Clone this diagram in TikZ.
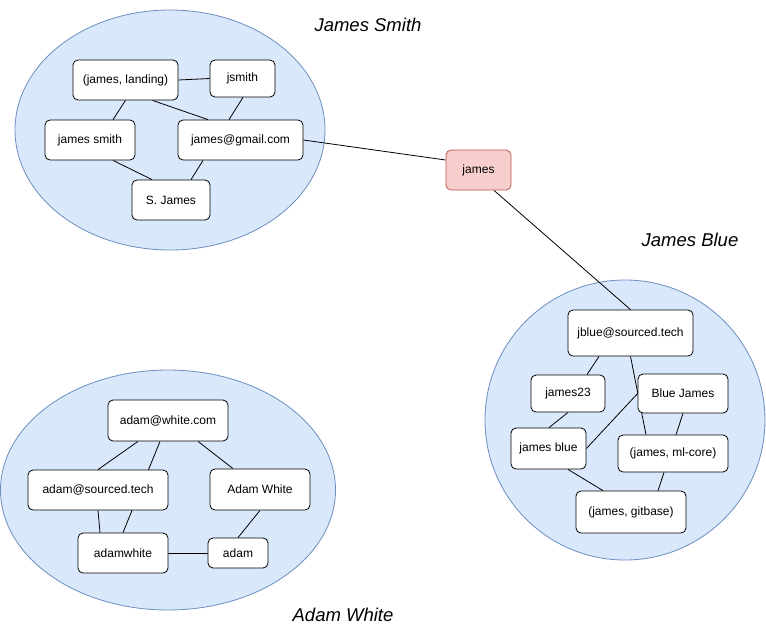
\documentclass[tikz,border=0pt]{standalone}
\usepackage{fontspec}
\setmainfont{Liberation Sans}
\usetikzlibrary{shapes.geometric}
\pgfdeclarelayer{grplayer}
\pgfdeclarelayer{edgelayer}
\pgfsetlayers{grplayer,edgelayer,main}
\definecolor{grpfill}{HTML}{DAE8FC}
\definecolor{grpdraw}{HTML}{6C8EBF}
\definecolor{redfill}{HTML}{F8CECC}
\definecolor{reddraw}{HTML}{B85450}
\begin{document}
\begin{tikzpicture}[x=1pt,y=-1pt,
  grp/.style={ellipse,draw=grpdraw,fill=grpfill,line width=0.8pt,inner sep=0pt},
  box/.style={rectangle,rounded corners=5pt,draw=black,fill=white,line width=0.8pt,
    inner sep=0pt,font=\fontsize{12}{14}\selectfont},
  redbox/.style={box,draw=reddraw,fill=redfill},
  title/.style={font=\fontsize{18.5}{22}\selectfont\itshape,inner sep=0pt},
  link/.style={draw=black,line width=0.8pt}]
\useasboundingbox (0,0) rectangle (766,641);
% groups
\begin{pgfonlayer}{grplayer}
\node[grp,minimum width=310,minimum height=240] (gs) at (170,130) {};
\node[grp,minimum width=280,minimum height=280] (gb) at (625,420) {};
\node[grp,minimum width=335,minimum height=240] (gw) at (168,490) {};
\end{pgfonlayer}
% titles
\node[title] (ts) at (368,25) {James Smith};
\node[title] (tb) at (690,240) {James Blue};
\node[title] (tw) at (343,615) {Adam White};
% smith nodes
\node[box,minimum width=105,minimum height=40] (landing) at (125.5,80) {(james, landing)};
\node[box,minimum width=65,minimum height=37] (jsmith) at (242.5,78.5) {jsmith};
\node[box,minimum width=90,minimum height=40] (jsm) at (90,140) {james smith};
\node[box,minimum width=125,minimum height=40] (gmail) at (240.5,140) {james@gmail.com};
\node[box,minimum width=78,minimum height=40] (sj) at (171,200) {S. James};
% center
\node[redbox,minimum width=65,minimum height=40] (james) at (478.5,170) {james};
% blue nodes
\node[box,minimum width=125,minimum height=46] (jblue) at (630.5,333) {jblue@sourced.tech};
\node[box,minimum width=74,minimum height=37] (j23) at (568,393.5) {james23};
\node[box,minimum width=90,minimum height=39] (bj) at (683,393.5) {Blue James};
\node[box,minimum width=75,minimum height=41] (jb) at (548.5,448.5) {james blue};
\node[box,minimum width=110,minimum height=37] (ml) at (673,453.5) {(james, ml-core)};
\node[box,minimum width=110,minimum height=42] (git) at (631,512) {(james, gitbase)};
% white nodes
\node[box,minimum width=90,minimum height=40] (aw) at (123,553) {adamwhite};
\node[box,minimum width=120,minimum height=41] (awc) at (168,420.5) {adam@white.com};
\node[box,minimum width=140,minimum height=40] (ast) at (98,490) {adam@sourced.tech};
\node[box,minimum width=100,minimum height=41] (AW) at (260,489.5) {Adam White};
\node[box,minimum width=60,minimum height=30] (adam) at (238,553) {adam};
\begin{pgfonlayer}{edgelayer}
% smith edges
\draw[link] (landing.east) -- (jsmith.west);
\draw[link] (landing.south) -- ([xshift=23pt]jsm.north);
\draw[link] ([xshift=27pt]landing.south) -- ([xshift=-32.5pt]gmail.north);
\draw[link] ([xshift=0.5pt]jsmith.south) -- ([xshift=-11.5pt]gmail.north);
\draw[link] ([xshift=23pt]jsm.south) -- ([xshift=-19pt]sj.north);
\draw[link] ([xshift=-37.5pt]gmail.south) -- ([xshift=20pt]sj.north);
\draw[link] (gmail.east) -- ([yshift=10pt]james.west);
\draw[link] ([xshift=15.5pt]james.south) -- (jblue.north);
% blue edges
\draw[link] ([xshift=-31.5pt]jblue.south) -- ([xshift=19pt]j23.north);
\draw[link] (jblue.south) -- ([xshift=-27pt]ml.north);
\draw[link] (j23.south) -- ([xshift=0.5pt]jb.north);
\draw[link] (jb.east) -- (bj.west);
\draw[link] (bj.south) -- ([xshift=3pt]ml.north);
\draw[link] ([xshift=19.5pt]jb.south) -- ([xshift=-28pt]git.north);
\draw[link] ([xshift=-9pt]ml.south) -- ([xshift=27pt]git.north);
% white edges
\draw[link] ([xshift=-30pt]awc.south) -- (ast.north);
\draw[link] ([xshift=-8pt]awc.south) -- (aw.north);
\draw[link] ([xshift=30pt]awc.south) -- ([xshift=-27pt]AW.north);
\draw[link] (ast.south) -- ([xshift=-23pt]aw.north);
\draw[link] (AW.south) -- (adam.north);
\draw[link] (aw.east) -- (adam.west);
\end{pgfonlayer}
\end{tikzpicture}
\end{document}
